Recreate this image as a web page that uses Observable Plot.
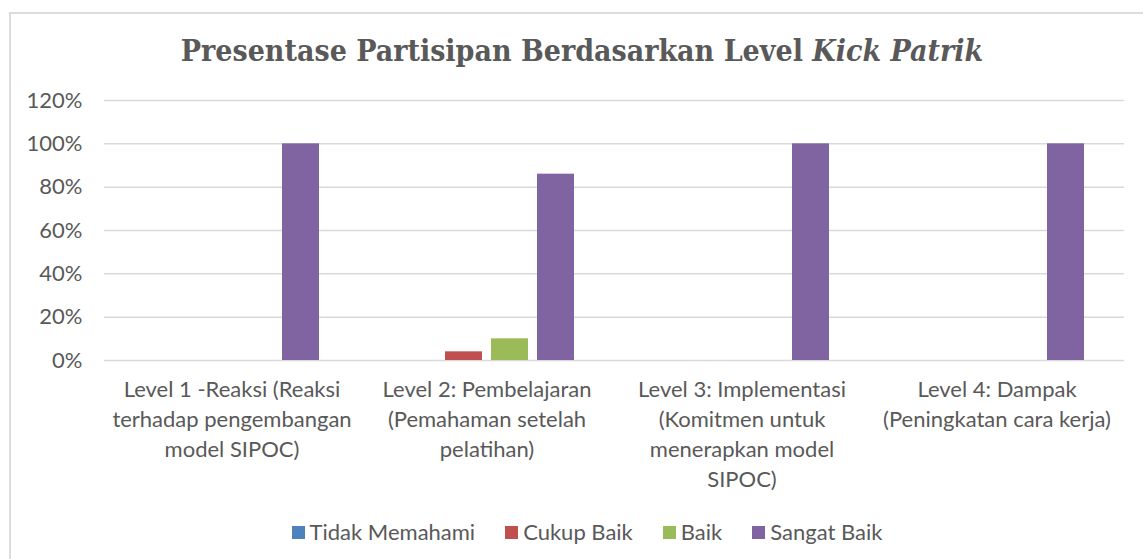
<!DOCTYPE html>
<html>
<head>
<meta charset="utf-8">
<script src="https://cdn.jsdelivr.net/npm/d3@7"></script>
<script src="https://cdn.jsdelivr.net/npm/@observablehq/plot@0.6"></script>
<style>
  html, body { margin: 0; padding: 0; background: #fff; }
  body { width: 1143px; height: 559px; position: relative; overflow: hidden; font-family: Lato, "Open Sans", sans-serif; color: #595959; }
  #frame { position: absolute; left: 9px; top: 12px; width: 1200px; height: 600px; border-top: 2px solid #dcdcdc; border-left: 2px solid #dcdcdc; }
  #title { position: absolute; left: 0; top: 31px; width: 1164px; text-align: center; font-family: "DejaVu Serif Condensed", "DejaVu Serif", serif; font-weight: bold; font-size: 30px; line-height: 40px; color: #595959; white-space: nowrap; }
  #chart { position: absolute; left: 0; top: 70px; }
  #legend { position: absolute; left: 0; top: 518px; width: 1174px; display: flex; justify-content: center; font-size: 22px; line-height: 28px; color: #595959; }
  .item { display: flex; align-items: center; margin: 0 15px; }
  .sw { width: 13px; height: 13px; margin-right: 5px; }
</style>
</head>
<body>
<div id="frame"></div>
<div id="title">Presentase Partisipan Berdasarkan Level <i>Kick Patrik</i></div>
<div id="chart"></div>
<div id="legend"></div>
<script>
const groups = [
  "Level 1 -Reaksi (Reaksi terhadap pengembangan model SIPOC)",
  "Level 2: Pembelajaran (Pemahaman setelah pelatihan)",
  "Level 3: Implementasi (Komitmen untuk menerapkan model SIPOC)",
  "Level 4: Dampak (Peningkatan cara kerja)"
];
const groupLabels = [
  "Level 1 -Reaksi (Reaksi\nterhadap pengembangan\nmodel SIPOC)",
  "Level 2: Pembelajaran\n(Pemahaman setelah\npelatihan)",
  "Level 3: Implementasi\n(Komitmen untuk\nmenerapkan model\nSIPOC)",
  "Level 4: Dampak\n(Peningkatan cara kerja)"
];
const series = ["Tidak Memahami", "Cukup Baik", "Baik", "Sangat Baik"];
const tidakMemahami = [0, 0, 0, 0];
const cukupBaik = [0, 4, 0, 0];
const baik = [0, 10, 0, 0];
const sangatBaik = [100, 86, 100, 100];
const colors = ["#4F81BD", "#C0504D", "#9BBB59", "#8064A2"];
const yTicks = [0, 20, 40, 60, 80, 100, 120];

const valuesBySeries = [tidakMemahami, cukupBaik, baik, sangatBaik];
const data = [];
series.forEach((s, si) => groups.forEach((g, gi) => data.push({group: g, series: s, value: valuesBySeries[si][gi]})));

const plot = Plot.plot({
  width: 1143,
  height: 430,
  marginTop: 30,
  marginBottom: 140,
  marginLeft: 103,
  marginRight: 19,
  style: {fontFamily: "Lato, 'Open Sans', sans-serif", fontSize: "22px", color: "#595959", background: "transparent"},
  fx: {domain: groups, padding: 0, label: null},
  x: {domain: series, paddingInner: 0.204, paddingOuter: 0.848, axis: null},
  y: {domain: [0, 120], label: null},
  color: {domain: series, range: colors},
  marks: [
    Plot.gridY(yTicks, {stroke: "#d9d9d9", strokeOpacity: 1, strokeWidth: 1.5}),
    Plot.barY(data, {fx: "group", x: "series", y: "value", fill: "series"}),
    Plot.axisY(yTicks, {tickSize: 0, tickPadding: 22, tickFormat: d => d + "%", fontSize: 22, label: null}),
    Plot.axisFx({anchor: "bottom", tickSize: 0, tickPadding: 15, fontSize: 22, lineHeight: 1.36, label: null,
      tickFormat: d => groupLabels[groups.indexOf(d)]})
  ]
});
document.getElementById("chart").appendChild(plot);

const legend = d3.select("#legend");
series.forEach((s, i) => {
  const it = legend.append("div").attr("class", "item");
  it.append("div").attr("class", "sw").style("background", colors[i]);
  it.append("span").text(s);
});
</script>
</body>
</html>
